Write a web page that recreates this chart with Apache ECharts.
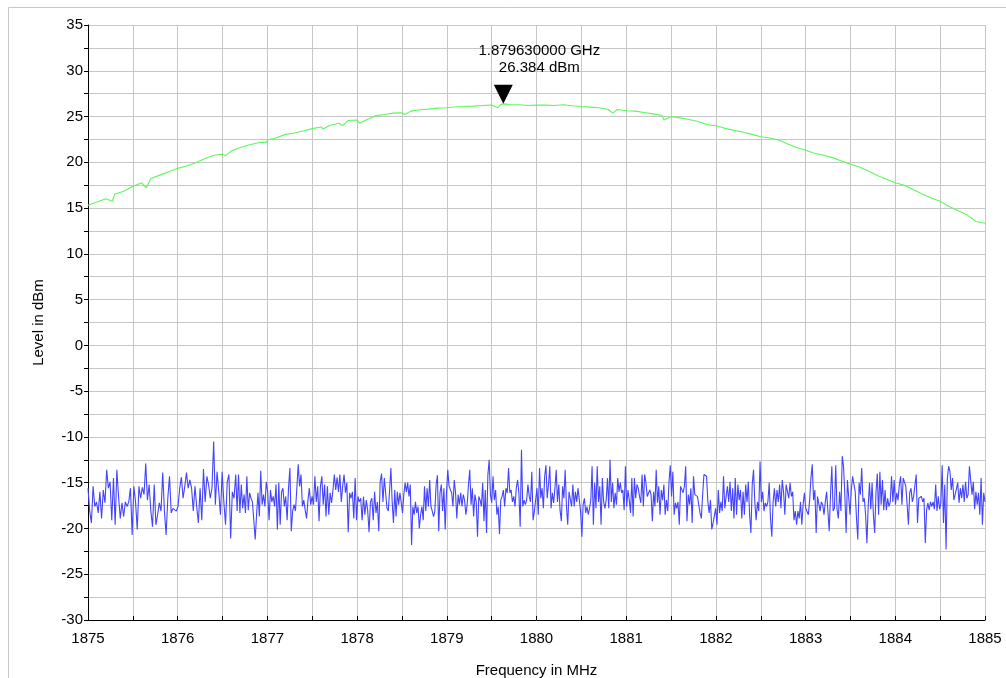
<!DOCTYPE html>
<html>
<head>
<meta charset="utf-8">
<script src="https://cdn.jsdelivr.net/npm/echarts@6/dist/echarts.min.js"></script>
<style>
html,body{margin:0;padding:0;background:#fff;}
#chart{width:1006px;height:678px;}
</style>
</head>
<body>
<div id="chart"></div>
<script>
// ---- Data ----
const xTickLabels = ['1875','1876','1877','1878','1879','1880','1881','1882','1883','1884','1885'];
const yTickLabels = ['-30','-25','-20','-15','-10','-5','0','5','10','15','20','25','30','35'];

// Green trace (carrier), frequency in MHz / level in dBm
const greenFreq = [1875.0,1875.1,1875.2,1875.27,1875.3,1875.4,1875.5,1875.6,1875.65,1875.7,1875.8,1875.9,
  1876.0,1876.1,1876.2,1876.3,1876.4,1876.5,1876.53,1876.6,1876.7,1876.8,1876.9,1876.99,
  1877.0,1877.1,1877.2,1877.3,1877.4,1877.5,1877.6,1877.62,1877.7,1877.8,1877.84,1877.9,
  1878.0,1878.03,1878.1,1878.2,1878.3,1878.4,1878.5,1878.53,1878.6,1878.7,1878.8,1878.9,
  1879.0,1879.1,1879.2,1879.3,1879.4,1879.5,1879.57,1879.6,1879.63,1879.7,1879.8,1879.9,
  1880.0,1880.1,1880.2,1880.3,1880.4,1880.5,1880.6,1880.7,1880.8,1880.85,1880.9,
  1881.0,1881.1,1881.2,1881.3,1881.4,1881.42,1881.5,1881.6,1881.7,1881.8,1881.9,
  1882.0,1882.1,1882.2,1882.3,1882.4,1882.5,1882.6,1882.7,1882.8,1882.9,
  1883.0,1883.1,1883.2,1883.3,1883.4,1883.5,1883.6,1883.7,1883.8,1883.9,
  1884.0,1884.1,1884.2,1884.3,1884.4,1884.5,1884.6,1884.7,1884.8,1884.9,1885.0];
const greenLevel = [15.3,15.66,16.03,15.74,16.54,16.84,17.39,17.76,17.2,18.24,18.6,18.97,
  19.34,19.6,19.96,20.4,20.77,20.88,20.7,21.25,21.62,21.91,22.13,22.2,
  22.43,22.68,23.05,23.2,23.42,23.68,23.86,23.64,24.04,24.26,24.0,24.56,
  24.63,24.26,24.63,25.07,25.22,25.37,25.4,25.22,25.59,25.74,25.81,25.92,
  25.96,26.07,26.1,26.14,26.21,26.25,25.96,26.32,26.384,26.32,26.29,26.21,
  26.25,26.25,26.21,26.29,26.18,26.1,26.03,25.96,25.77,25.37,25.77,
  25.63,25.59,25.44,25.29,25.11,24.63,25.0,24.85,24.67,24.45,24.12,
  24.0,23.71,23.49,23.31,23.05,22.79,22.65,22.43,21.99,21.62,
  21.32,20.99,20.77,20.51,20.15,19.78,19.49,19.04,18.57,18.16,
  17.76,17.5,17.02,16.54,16.1,15.74,15.18,14.71,14.26,13.53,13.35];

// Blue trace (noise floor), read in six consecutive frequency segments
const blueSegBounds = [1875.0, 1876.647, 1878.319, 1879.991, 1881.663, 1883.336, 1885.0];
const blueSeg1 = [-15.6,-18.1,-19.4,-15.4,-17.6,-17.1,-18.3,-16.0,-18.9,-15.8,-17.2,-13.6,-15.6,-14.9,-19.1,-14.5,-19.6,-13.6,-16.5,-18.9,-17.2,-18.7,-17.1,-17.6,-17.1,-15.6,-20.7,-15.4,-17.1,-20.1,-15.4,-16.7,-15.5,-16.3,-12.9,-16.9,-15.2,-18.1,-19.8,-15.2,-19.6,-18.5,-17.2,-18.1,-13.9,-18.1,-20.7,-16.7,-14.3,-18.3,-17.8,-18.0,-18.1,-17.6,-15.6,-14.4,-16.7,-15.4,-13.9,-15.6,-14.7,-15.6,-18.1,-15.4,-17.6,-19.4,-15.6,-19.1,-13.5,-17.1,-14.3,-15.2,-16.7,-15.6,-10.5,-17.4,-13.8,-16.0,-18.5,-13.8,-17.1,-19.6,-14.9,-14.1,-21.1,-16.0,-16.7];
const blueSeg2 = [-14.1,-18.1,-14.1,-18.3,-15.2,-17.8,-16.3,-18.3,-14.3,-18.0,-16.1,-16.7,-17.1,-19.1,-21.2,-18.5,-16.1,-18.7,-13.7,-17.4,-16.3,-17.6,-14.9,-16.0,-19.1,-15.8,-17.1,-16.5,-17.6,-15.2,-20.1,-15.0,-19.6,-16.0,-15.6,-17.6,-16.5,-19.1,-15.6,-13.4,-20.3,-18.1,-17.4,-18.1,-15.6,-13.0,-15.4,-14.1,-17.6,-16.9,-18.0,-18.9,-16.9,-15.6,-17.4,-16.5,-17.4,-14.3,-17.1,-15.4,-19.2,-15.4,-14.3,-17.4,-15.2,-18.7,-15.4,-18.5,-16.1,-17.2,-15.8,-14.1,-15.8,-14.4,-16.0,-14.1,-17.1,-15.4,-14.1,-16.1,-15.0,-20.4,-16.1,-16.7,-16.0,-18.9,-14.5,-19.1,-16.5,-17.1,-16.7,-19.1,-16.5,-18.5,-16.9,-18.0,-20.4,-17.1,-16.7,-19.1,-16.0,-18.3,-17.1,-20.3,-14.9,-14.0,-17.1,-14.5];
const blueSeg3 = [-14.3,-17.8,-18.1,-15.8,-13.4,-17.1,-19.4,-15.8,-18.7,-16.0,-17.4,-16.1,-16.0,-18.3,-16.3,-15.0,-16.0,-15.0,-16.5,-15.2,-21.8,-17.6,-18.5,-17.1,-18.3,-17.6,-20.0,-18.5,-17.6,-19.1,-15.4,-18.1,-15.6,-17.6,-14.7,-17.6,-18.1,-18.7,-18.1,-15.2,-14.2,-20.3,-16.1,-15.2,-18.1,-15.6,-20.1,-16.1,-13.6,-15.4,-15.6,-16.1,-17.6,-14.7,-16.1,-18.9,-16.3,-17.4,-16.1,-17.6,-16.3,-16.9,-18.5,-17.4,-15.2,-13.6,-17.4,-15.6,-18.7,-16.3,-17.1,-20.9,-16.5,-16.9,-17.6,-15.0,-19.2,-15.8,-20.5,-14.2,-12.5,-16.3,-17.2,-14.3,-16.9,-15.8,-18.5,-17.6,-20.6,-16.9,-16.5,-15.8,-17.6,-15.6,-16.1,-13.4,-16.1,-15.8,-17.1,-16.5,-17.6,-15.6,-14.7,-16.1,-19.8,-11.4,-17.6,-16.9,-17.4,-16.9,-15.2,-16.5,-17.1,-13.8,-19.1,-18.1];
const blueSeg4 = [-18.3,-15.6,-18.5,-13.4,-16.7,-15.6,-17.8,-14.3,-13.1,-16.7,-15.2,-13.2,-17.8,-16.1,-17.2,-15.6,-13.6,-17.1,-15.2,-18.0,-19.2,-15.4,-16.7,-13.6,-17.6,-19.6,-16.0,-15.8,-17.6,-15.2,-17.6,-16.0,-17.1,-15.6,-15.4,-18.1,-20.9,-17.4,-16.7,-18.3,-17.6,-18.5,-17.8,-16.9,-13.2,-19.6,-15.0,-17.8,-13.2,-17.1,-15.4,-19.6,-14.5,-17.1,-17.8,-16.9,-14.5,-17.8,-12.5,-17.1,-15.0,-17.8,-16.1,-17.4,-14.5,-16.0,-15.0,-16.1,-15.8,-18.0,-13.2,-17.6,-15.8,-16.9,-18.3,-14.5,-18.7,-14.5,-16.7,-15.2,-15.6,-16.5,-17.2,-14.1,-17.6,-14.1,-15.0,-16.5,-16.3,-15.8,-16.3,-19.2,-16.0,-17.6,-13.6,-17.2,-15.4,-18.5,-15.8,-16.9,-15.2,-18.5,-16.9,-18.1,-14.9,-13.1,-16.5,-13.8,-18.5,-17.2,-17.8,-17.1,-19.6,-15.4,-15.2,-16.1,-15.4];
const blueSeg5 = [-13.2,-19.2,-16.3,-17.4,-15.6,-19.4,-14.3,-16.3,-16.3,-16.5,-17.4,-18.3,-18.9,-16.3,-14.1,-14.0,-14.3,-17.1,-18.3,-16.9,-20.1,-19.4,-19.6,-17.8,-19.6,-15.8,-18.3,-17.1,-18.1,-14.3,-17.8,-16.5,-15.4,-17.1,-14.9,-18.1,-15.6,-18.9,-14.5,-18.5,-15.2,-16.9,-15.8,-18.9,-16.0,-18.5,-15.2,-17.1,-14.9,-18.5,-20.5,-15.2,-13.6,-17.1,-19.1,-17.1,-18.1,-12.7,-17.1,-16.0,-18.1,-17.2,-17.6,-17.1,-15.0,-18.9,-20.9,-17.1,-15.6,-17.6,-15.8,-17.1,-15.2,-17.8,-14.7,-16.0,-18.5,-15.2,-15.0,-16.7,-15.0,-16.5,-16.0,-19.1,-18.1,-19.6,-18.1,-18.9,-17.1,-19.6,-17.4,-16.1,-17.8,-17.8,-18.5,-16.9,-14.5,-13.0,-16.9,-15.8,-20.5,-16.5,-16.7,-18.1,-17.1,-17.4,-18.5,-17.1,-16.0,-18.1,-20.3,-16.3,-13.2,-18.1,-17.8];
const blueSeg6 = [-13.1,-17.9,-18.9,-16.0,-18.1,-12.1,-13.2,-16.3,-20.5,-14.7,-14.9,-18.5,-15.8,-14.3,-14.5,-16.0,-18.9,-21.2,-15.0,-16.3,-13.4,-17.1,-16.7,-18.5,-21.6,-17.6,-15.0,-17.9,-15.0,-18.5,-20.5,-16.1,-14.0,-18.5,-13.8,-17.4,-14.7,-18.0,-15.8,-18.0,-16.7,-17.6,-17.1,-14.3,-17.1,-14.7,-17.4,-16.1,-16.9,-15.2,-14.3,-17.4,-14.5,-14.7,-15.4,-17.4,-19.6,-16.1,-15.6,-17.1,-16.5,-16.3,-14.1,-19.4,-16.7,-16.9,-16.5,-17.1,-16.7,-21.6,-18.0,-17.2,-18.0,-17.1,-17.6,-17.1,-17.9,-15.2,-18.1,-16.5,-17.9,-17.2,-13.1,-19.4,-15.2,-22.3,-14.5,-13.2,-13.8,-15.8,-14.5,-16.9,-16.3,-16.3,-15.0,-17.2,-15.6,-16.7,-15.2,-17.1,-14.9,-16.7,-16.3,-13.2,-13.0,-16.3,-14.9,-17.9,-16.0,-17.4,-16.1,-18.5,-14.5,-19.6,-16.1,-17.1];

const markerFreq = 1879.63;
const markerLevel = 26.384;
const markerText = ['1.879630000 GHz', '26.384 dBm'];

// ---- Build series data ----
const greenData = greenFreq.map((f, i) => [f, greenLevel[i]]);
const blueSegs = [blueSeg1, blueSeg2, blueSeg3, blueSeg4, blueSeg5, blueSeg6];
const blueData = [];
blueSegs.forEach((seg, s) => {
  const a = blueSegBounds[s], b = blueSegBounds[s + 1];
  const last = s === blueSegs.length - 1;
  const n = last ? seg.length - 1 : seg.length;
  seg.forEach((v, j) => blueData.push([a + (b - a) * j / n, v]));
});

const FONT = 'Liberation Sans, Arial, sans-serif';
const chart = echarts.init(document.getElementById('chart'), null, {renderer: 'canvas'});
chart.setOption({
  animation: false,
  backgroundColor: '#ffffff',
  graphic: [{
    type: 'rect', silent: true, z: -10,
    shape: {x: 8.5, y: 7.5, width: 1200, height: 1000},
    style: {fill: 'none', stroke: '#c8c8c8', lineWidth: 1}
  }],
  grid: {left: 88, top: 25, width: 897, height: 595, containLabel: false, outerBoundsMode: 'none'},
  xAxis: {
    type: 'value', min: 1875, max: 1885, interval: 0.5,
    name: 'Frequency in MHz', nameLocation: 'middle', nameGap: 43,
    nameTextStyle: {color: '#000', fontSize: 15, fontFamily: FONT},
    axisLine: {show: true, onZero: false, lineStyle: {color: '#000', width: 1}},
    axisTick: {show: true, inside: true, length: 4, lineStyle: {color: '#000'}},
    axisLabel: {
      color: '#000', fontSize: 15, fontFamily: FONT, margin: 11,
      formatter: v => { const i = xTickLabels.indexOf(String(Math.round(v * 1000) / 1000)); return i >= 0 ? xTickLabels[i] : ''; }
    },
    splitLine: {show: true, lineStyle: {color: '#c6c6c6', width: 1}}
  },
  yAxis: {
    type: 'value', min: -30, max: 35, interval: 2.5,
    name: 'Level in dBm', nameLocation: 'middle', nameGap: 42, nameRotate: 90,
    nameTextStyle: {color: '#000', fontSize: 15, fontFamily: FONT},
    axisLine: {show: true, onZero: false, lineStyle: {color: '#000', width: 1}},
    axisTick: {show: true, inside: false, length: 4, lineStyle: {color: '#000'}},
    axisLabel: {
      color: '#000', fontSize: 15, fontFamily: FONT, margin: 5,
      formatter: v => { const i = yTickLabels.indexOf(String(v)); return i >= 0 ? yTickLabels[i] : ''; }
    },
    splitLine: {show: true, lineStyle: {color: '#c6c6c6', width: 1}}
  },
  series: [
    {
      type: 'line', name: 'noise', data: blueData, showSymbol: false, symbol: 'none',
      lineStyle: {color: '#4444ff', width: 1.1}, z: 3
    },
    {
      type: 'line', name: 'carrier', data: greenData, showSymbol: false, symbol: 'none',
      lineStyle: {color: '#5cf85c', width: 1.1}, z: 4,
      markPoint: {
        symbol: 'triangle', symbolRotate: 180, symbolSize: [19, 19], symbolOffset: [0, '-50%'],
        itemStyle: {color: '#000'},
        label: {
          show: true, position: 'top', distance: 5, offset: [36, -4],
          formatter: markerText.join('\n'),
          color: '#000', fontSize: 15, lineHeight: 17, fontFamily: FONT
        },
        data: [{coord: [markerFreq, markerLevel]}]
      }
    }
  ]
});
</script>
</body>
</html>
